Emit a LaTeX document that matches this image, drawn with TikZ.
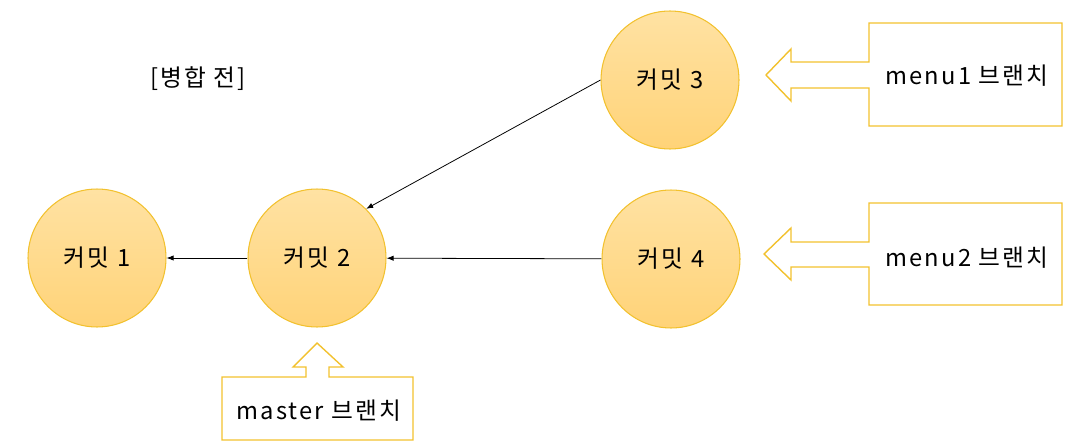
\documentclass[tikz,border=0pt]{standalone}
\usepackage{fontspec}
\setmainfont{Noto Sans CJK KR}[LetterSpace=9]
\usepackage{xcolor}
\usetikzlibrary{arrows.meta, positioning, calc}
\definecolor{commitgold}{HTML}{F2C12E}
\definecolor{committop}{HTML}{FFE2A3}
\definecolor{commitbot}{HTML}{FFD378}
\begin{document}
\begin{tikzpicture}[
      x=0.02cm, y=-0.02cm,
      commit/.style={circle, draw=commitgold, line width=0.6pt, top color=committop, bottom color=commitbot, minimum size=2.76cm, inner sep=0pt, font=\fontsize{13.5}{15}\selectfont},
      branch/.style={font=\fontsize{13.5}{15}\selectfont},
      callout/.style={draw=commitgold, line width=0.8pt, line join=miter},
      arrow/.style={-{Latex[length=4pt, width=3pt]}, line width=0.45pt}
    ]
      \useasboundingbox (0,0) rectangle (1088,446);
      \node[branch] (title) at (198,79) {[병합 전]};

      \node[commit] (c1) at (97,258) {커밋 1};
      \node[commit] (c2) at (317,258) {커밋 2};
      \node[commit] (c3) at (670,80) {커밋 3};
      \node[commit] (c4) at (671,259) {커밋 4};

      \draw[arrow] (c2) -- (c1);
      \draw[arrow] (c4) -- (c2);
      \draw[arrow] (c3.west) -- (c2.45);

      \draw[callout] (869,62) -- (869,23) -- (1062,23) -- (1062,126) -- (869,126) -- (869,88)
        -- (791,88) -- (791,101) -- (766,75) -- (791,49) -- (791,62) -- cycle;
      \node[branch] (menu1) at (967,76) {menu1 브랜치};

      \draw[callout] (869,242) -- (869,203) -- (1062,203) -- (1062,305) -- (869,305) -- (869,267)
        -- (791,267) -- (791,280) -- (764,254) -- (791,228) -- (791,242) -- cycle;
      \node[branch] (menu2) at (967,258) {menu2 브랜치};

      \draw[callout] (306,377) -- (222,377) -- (222,440) -- (413,440) -- (413,377) -- (329,377)
        -- (329,367) -- (343,367) -- (317,343) -- (293,367) -- (306,367) -- cycle;
      \node[branch] (master) at (319,411) {master 브랜치};
    \end{tikzpicture}
\end{document}
